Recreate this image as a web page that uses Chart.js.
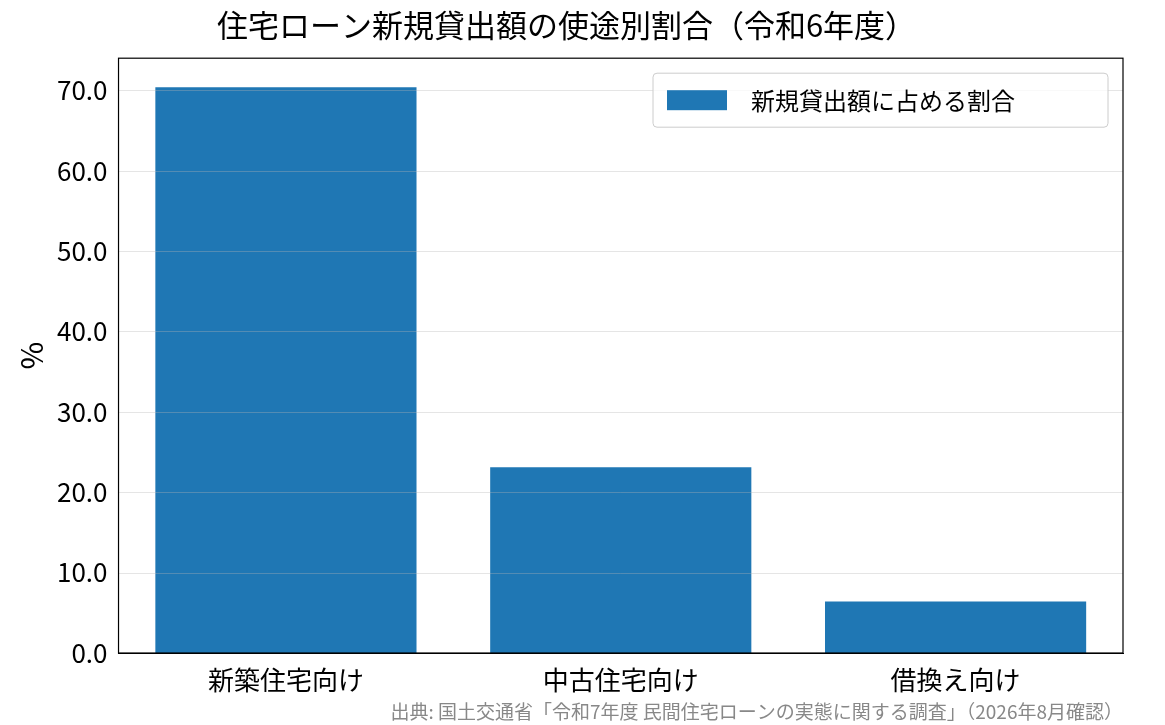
<!DOCTYPE html>
<html><head><meta charset="utf-8">
<script src="https://cdn.jsdelivr.net/npm/chart.js@4/dist/chart.umd.min.js"></script>
<style>html,body{margin:0;background:#fff}#w{width:1165px;height:725px}</style>
</head><body><div id="w"><canvas id="c"></canvas></div>
<script>
const categories = ["新築住宅向け","中古住宅向け","借換え向け"];
const values = [70.4, 23.1, 6.4];
const seriesName = "新規貸出額に占める割合";
const yTicks = [0,10,20,30,40,50,60,70];
const F = "'Noto Sans CJK JP', sans-serif";
const overlay = {
  id:'overlay',
  afterDatasetsDraw(chart){
    const {ctx, chartArea:a, scales:{y}} = chart;
    ctx.save(); ctx.strokeStyle='rgba(180,180,180,0.35)'; ctx.lineWidth=1;
    y.ticks.forEach(t=>{ if(t.value===0) return; const p=Math.round(y.getPixelForValue(t.value))+0.5;
      ctx.beginPath(); ctx.moveTo(a.left,p); ctx.lineTo(a.right,p); ctx.stroke(); });
    ctx.strokeStyle='#000'; ctx.lineWidth=1.2; ctx.strokeRect(a.left,a.top,a.right-a.left,a.bottom-a.top);
    // legend
    const lx=a.right-470, ly=a.top+15, lw=455, lh=54;
    ctx.fillStyle='rgba(255,255,255,0.8)'; ctx.strokeStyle='#ccc'; ctx.lineWidth=1;
    ctx.beginPath(); ctx.roundRect(lx,ly,lw,lh,4); ctx.fill(); ctx.stroke();
    ctx.fillStyle='#1f77b4'; ctx.fillRect(lx+14, ly+17, 60, 20);
    ctx.fillStyle='#000'; ctx.font="24px "+F; ctx.textBaseline='middle'; ctx.textAlign='left';
    ctx.fillText(seriesName, lx+98, ly+lh/2+1);
    ctx.restore();
  }
};
new Chart(document.getElementById('c'), {
  type:'bar',
  data:{labels:categories, datasets:[{label:seriesName, data:values, backgroundColor:'#1f77b4',
    categoryPercentage:1, barPercentage:0.78}]},
  options:{responsive:true, maintainAspectRatio:false, animation:false,
    layout:{padding:{left:10,right:42,top:5,bottom:2}},
    plugins:{
      title:{display:true, text:'住宅ローン新規貸出額の使途別割合（令和6年度）', color:'#000',
        font:{family:F,size:31,weight:'normal'}, padding:{top:2,bottom:14}},
      subtitle:{display:true, position:'bottom', align:'end', text:'出典: 国土交通省「令和7年度 民間住宅ローンの実態に関する調査」（2026年8月確認）',
        color:'#888', font:{family:F,size:19}, padding:{top:0,bottom:0}},
      legend:{display:false},
      tooltip:{enabled:false}
    },
    scales:{
      x:{grid:{display:false}, border:{color:'#000'}, ticks:{font:{family:F,size:26}, color:'#000', padding:4}},
      y:{min:0, max:74, border:{color:'#000'}, grid:{display:false},
        afterBuildTicks:s=>{s.ticks=yTicks.map(v=>({value:v}));},
        ticks:{font:{family:F,size:26}, color:'#000', callback:v=>v.toFixed(1)},
        title:{display:true, text:'%', font:{family:F,size:30}, color:'#000'}}
    }
  },
  plugins:[overlay]
});
</script></body></html>
